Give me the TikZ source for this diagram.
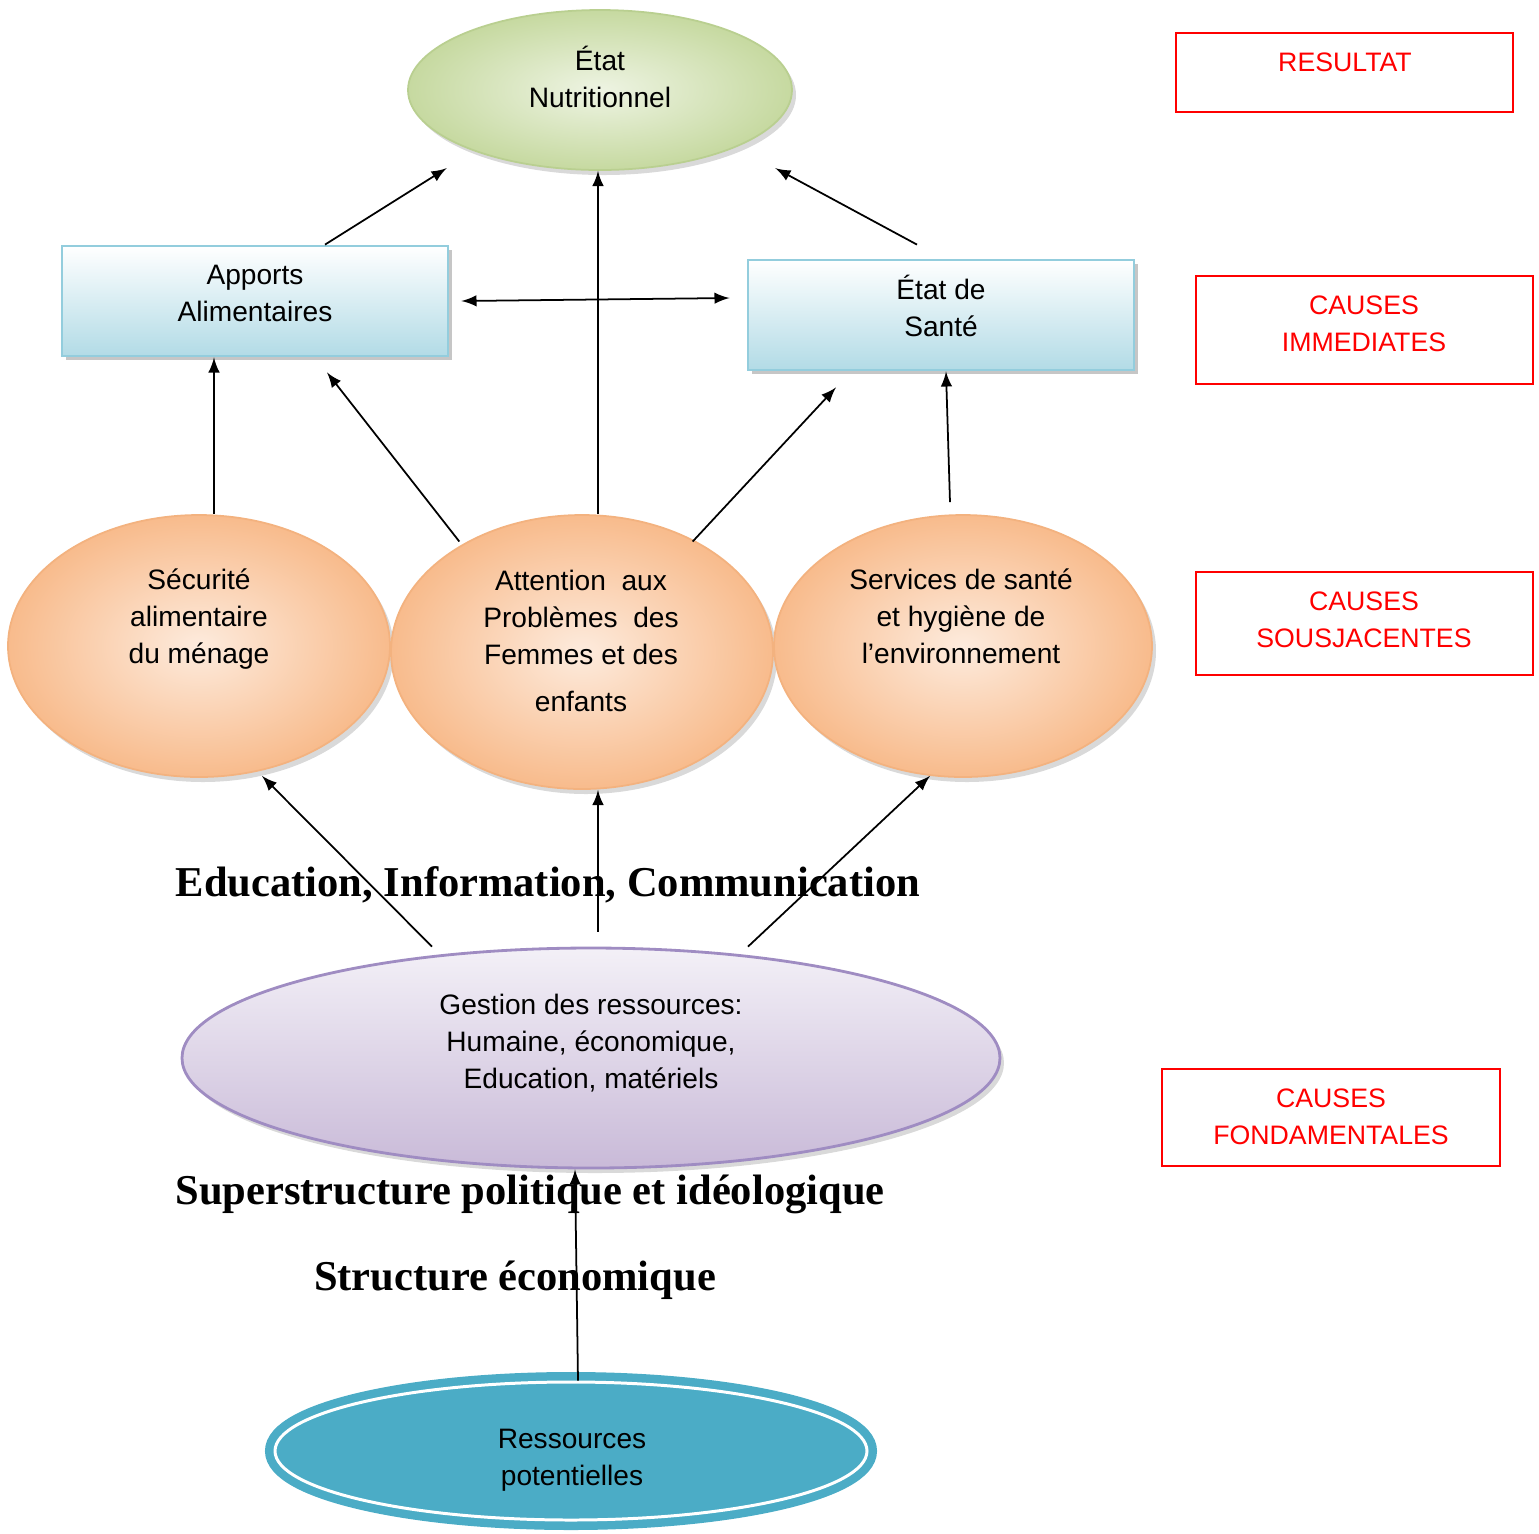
\documentclass[tikz,border=0pt]{standalone}
\usepackage{fontspec}
\setmainfont{Liberation Sans}
\newfontfamily\timesbold{Liberation Serif}
\usepackage{tikz}
\usetikzlibrary{shapes.geometric,shadows}

\definecolor{nutriin}{HTML}{EEF4E3}
\definecolor{nutriout}{HTML}{C6D9A0}
\definecolor{nutriline}{HTML}{B9CF90}
\definecolor{boxline}{HTML}{93CDDD}
\definecolor{boxbottom}{HTML}{B2DBE6}
\definecolor{orangein}{HTML}{FDEBDD}
\definecolor{orangeout}{HTML}{F8BB8C}
\definecolor{orangeline}{HTML}{F3B27F}
\definecolor{lilactop}{HTML}{F3F0F7}
\definecolor{lilacbottom}{HTML}{C9BAD8}
\definecolor{lilacline}{HTML}{9F8CC2}
\definecolor{ressblue}{HTML}{4BACC6}

\tikzset{
  txt/.style={font=\fontsize{8}{10.5}\selectfont, align=center, inner sep=0pt},
  redtxt/.style={text=red, font=\fontsize{7.6}{10.5}\selectfont, align=center, inner sep=0pt},
  nutriball/.style={ellipse, draw=nutriline, inner color=nutriin, outer color=nutriout,
    inner sep=0pt, drop shadow={shadow xshift=0.4mm, shadow yshift=-0.5mm, opacity=0.3}},
  causebox/.style={rectangle, draw=boxline, line width=0.8pt, top color=white, bottom color=boxbottom,
    minimum width=3.86cm, minimum height=1.1cm, inner sep=0pt,
    drop shadow={shadow xshift=0.35mm, shadow yshift=-0.4mm, opacity=0.45}},
  orangeball/.style={ellipse, draw=orangeline, inner color=orangein, outer color=orangeout,
    inner sep=0pt, drop shadow={shadow xshift=0.4mm, shadow yshift=-0.5mm, opacity=0.3}},
  lilacball/.style={ellipse, draw=lilacline, line width=0.8pt, top color=lilactop, bottom color=lilacbottom,
    inner sep=0pt, drop shadow={shadow xshift=0.4mm, shadow yshift=-0.5mm, opacity=0.3}},
  ressball/.style={ellipse, fill=ressblue, draw=white, line width=0.85pt,
    preaction={draw=ressblue, line width=2mm}, inner sep=0pt},
  levelbox/.style={rectangle, draw=red, line width=0.6pt, minimum width=3.37cm, inner sep=0pt},
  bigtxt/.style={font=\timesbold\bfseries\fontsize{12.1}{14}\selectfont, inner sep=0pt}
}

\begin{document}
\begin{tikzpicture}[x=0.1mm, y=-0.1mm, >=latex, line width=0.5pt]
    \useasboundingbox (0,0) rectangle (1539,1533);

    % Resultat
    \node[nutriball, minimum width=3.84cm, minimum height=1.6cm] (nutri) at (600,90) {};
    \node[txt] (nutri-t) at (600,77) {État\\Nutritionnel};

    % Causes immediates
    \node[causebox] (apports) at (255,301) {};
    \node[txt] (apports-t) at (255,293) {Apports\\Alimentaires};
    \node[causebox] (sante) at (941,315) {};
    \node[txt] (sante-t) at (941,306) {État de\\Santé};

    % Causes sousjacentes
    \node[orangeball, minimum width=3.82cm, minimum height=2.62cm] (secu) at (199,646) {};
    \node[txt] (secu-t) at (199,619) {Sécurité\\alimentaire\\du ménage};
    \node[orangeball, minimum width=3.82cm, minimum height=2.74cm] (atten) at (582,652) {};
    \node[txt] (atten-t) at (581,641) {Attention\ \ aux\\Problèmes\ \ des\\Femmes et des\\[1.1mm]enfants};
    \node[orangeball, minimum width=3.78cm, minimum height=2.62cm] (serv) at (963,646) {};
    \node[txt] (serv-t) at (961,616) {Services de santé\\et hygiène de\\l’environnement};

    % Causes fondamentales
    \node[lilacball, minimum width=8.18cm, minimum height=2.2cm] (gest) at (591,1058) {};
    \node[txt] (gest-t) at (591,1043) {Gestion des ressources:\\Humaine, économique,\\Education, matériels};
    \node[ressball, minimum width=5.92cm, minimum height=1.38cm] (ress) at (571,1451) {};
    \node[txt] (ress-t) at (572,1460) {Ressources\\potentielles};

    % arrows to the result
    \draw[->] ([xshift=7mm]apports.north) -- ([xshift=-1.7mm,yshift=-2.1mm]nutri.south west);
    \draw[->] ([xshift=-0.2mm]atten.north -| nutri.south) -- ([xshift=-0.2mm]nutri.south);
    \draw[->] ([xshift=-2.4mm,yshift=1.4mm]sante.north) -- ([xshift=3.9mm,yshift=-2.1mm]nutri.south east);
    \draw[<->] ([xshift=1.2mm]apports.east) -- ([xshift=-1.7mm,yshift=1.7mm]sante.west);

    % arrows to the immediate causes
    \draw[->] ([xshift=1.5mm]secu.north) -- ([xshift=1.5mm]secu.north |- apports.south);
    \draw[->] ([xshift=1.3mm,yshift=1.3mm]atten.north west) -- ([xshift=7.2mm,yshift=-1.5mm]apports.south);
    \draw[->] ([xshift=-2.5mm,yshift=1.3mm]atten.north east) -- ([xshift=-10.5mm,yshift=-1.6mm]sante.south);
    \draw[->] ([xshift=-1.3mm,yshift=1.2mm]serv.north) -- ([xshift=0.5mm]sante.south);

    % arrows from the resources
    \draw[->] ([xshift=-15.9mm]gest.north) -- ([xshift=6.3mm,yshift=0.2mm]secu.south);
    \draw[->] ([xshift=0.7mm,yshift=1.5mm]gest.north) -- ([xshift=0.7mm]gest.north |- atten.south);
    \draw[->] ([xshift=15.7mm]gest.north) -- ([xshift=-3.3mm,yshift=0.2mm]serv.south);
    \draw[->] ([xshift=0.7mm]ress.north) -- ([xshift=-1.6mm]gest.south);

    % bold labels
    \node[bigtxt] (eic) at (548,885) {Education, Information, Communication};
    \node[bigtxt] (superstr) at (530,1194) {Superstructure politique et idéologique};
    \node[bigtxt] (structeco) at (515,1280) {Structure économique};

    % levels on the right
    \node[levelbox, minimum height=0.79cm] (lvl-res) at (1344.5,72.5) {};
    \node[redtxt] (lvl-res-t) at (1345,62) {RESULTAT};
    \node[levelbox, minimum height=1.08cm] (lvl-imm) at (1364.5,330) {};
    \node[redtxt] (lvl-imm-t) at (1364,324) {CAUSES\\IMMEDIATES};
    \node[levelbox, minimum height=1.03cm] (lvl-sous) at (1364.5,623.5) {};
    \node[redtxt] (lvl-sous-t) at (1364,620) {CAUSES\\SOUSJACENTES};
    \node[levelbox, minimum width=3.38cm, minimum height=0.97cm] (lvl-fond) at (1331,1117.5) {};
    \node[redtxt] (lvl-fond-t) at (1331,1117) {CAUSES\\FONDAMENTALES};
\end{tikzpicture}
\end{document}
